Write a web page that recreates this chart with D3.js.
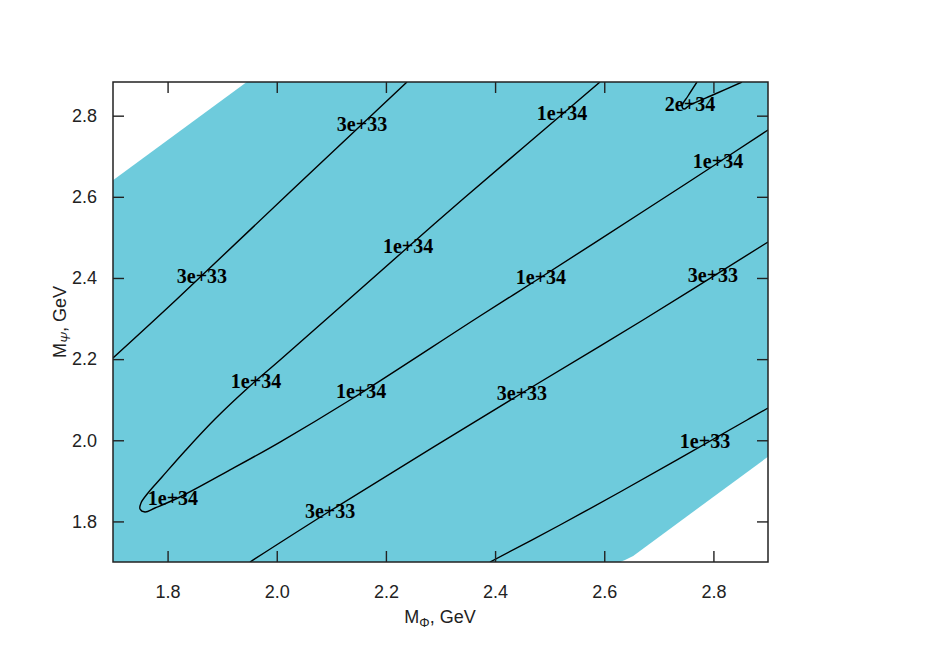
<!DOCTYPE html>
<html><head><meta charset="utf-8">
<script src="https://cdn.jsdelivr.net/npm/d3@7"></script>
<style>body{margin:0;background:#fff}</style>
</head><body>
<svg id="chart" width="949" height="664"></svg>
<script>
// ---- data ----
const xTicks = [1.8, 2.0, 2.2, 2.4, 2.6, 2.8];
const yTicks = [1.8, 2.0, 2.2, 2.4, 2.6, 2.8];
const xDomain = [1.7, 2.9];
const yDomain = [1.7, 2.883];

// allowed (shaded) region boundary
const regionX = [1.7, 1.7, 1.945, 2.9, 2.9, 2.653, 2.638, 2.629];
const regionY = [1.7, 2.641, 2.883, 2.883, 1.9595, 1.715, 1.705, 1.7];

// contour lines
const c3e33aX = [1.7, 1.8154, 2.0243, 2.2386];
const c3e33aY = [2.2028, 2.3457, 2.6119, 2.883];

const c1e34X = [2.5922, 2.3412, 2.2386, 2.0060, 1.9510, 1.8869, 1.8319, 1.7898, 1.7641, 1.7513, 1.7495, 1.7586, 1.7769, 1.8227, 1.9144, 2.0060, 2.1342, 2.3724, 2.4878, 2.6838, 2.7883, 2.9];
const c1e34Y = [2.883, 2.5946, 2.4739, 2.1978, 2.1338, 2.0524, 1.9736, 1.9095, 1.8701, 1.8454, 1.8306, 1.8232, 1.8331, 1.8602, 1.9268, 1.9957, 2.0993, 2.3063, 2.4049, 2.5749, 2.6661, 2.7647];

const c2e34X = [2.7699, 2.7534, 2.7425, 2.7461, 2.7571, 2.8029, 2.8524];
const c2e34Y = [2.883, 2.8485, 2.8238, 2.8164, 2.8263, 2.8534, 2.883];

const c3e33bX = [2.9, 2.671, 2.4493, 2.0976, 1.951];
const c3e33bY = [2.4887, 2.2964, 2.1165, 1.8257, 1.7];

const c1e33X = [2.9, 2.8616, 2.6289, 2.5189, 2.3907];
const c1e33Y = [2.0795, 2.05, 1.8725, 1.7912, 1.7];

// contour labels
const labelText = ["3e+33", "3e+33", "1e+34", "2e+34", "1e+34", "1e+34", "1e+34", "3e+33", "1e+34", "1e+34", "3e+33", "1e+33", "1e+34", "3e+33"];
const labelX = [2.1562, 1.863, 2.5226, 2.7571, 2.8084, 2.2405, 2.4841, 2.7992, 1.962, 2.1544, 2.4493, 2.7846, 1.8099, 2.0976];
const labelY = [2.7795, 2.4049, 2.8066, 2.8288, 2.6883, 2.4788, 2.4024, 2.4073, 2.1461, 2.1214, 2.1165, 1.9982, 1.8577, 1.8257];

// ---- drawing ----
const svg = d3.select("#chart");
const L = 113, R = 768, T = 82, B = 562;
const x = d3.scaleLinear().domain(xDomain).range([L, R]);
const y = d3.scaleLinear().domain(yDomain).range([B, T]);

svg.append("defs").append("clipPath").attr("id", "clip")
  .append("rect").attr("x", L).attr("y", T).attr("width", R - L).attr("height", B - T);

const g = svg.append("g").attr("clip-path", "url(#clip)");

const zip = (xs, ys) => xs.map((v, i) => [v, ys[i]]);
const poly = d3.line().x(d => x(d[0])).y(d => y(d[1]));
g.append("path").attr("d", poly(zip(regionX, regionY)) + "Z")
  .attr("fill", "#6ecbdc").attr("stroke", "none");

const curve = d3.line().x(d => x(d[0])).y(d => y(d[1])).curve(d3.curveCatmullRom.alpha(0.5));
[[c3e33aX, c3e33aY], [c1e34X, c1e34Y], [c2e34X, c2e34Y], [c3e33bX, c3e33bY], [c1e33X, c1e33Y]].forEach(([xs, ys]) => {
  g.append("path").attr("d", curve(zip(xs, ys)))
    .attr("fill", "none").attr("stroke", "#000").attr("stroke-width", 1.4);
});

g.selectAll("text.lab").data(labelText).enter().append("text")
  .attr("class", "lab")
  .attr("x", (d, i) => x(labelX[i]))
  .attr("y", (d, i) => y(labelY[i]))
  .attr("dy", "0.35em")
  .attr("text-anchor", "middle")
  .attr("font-family", "'Liberation Serif', 'DejaVu Serif', serif")
  .attr("font-weight", "bold")
  .attr("font-size", 20)
  .attr("fill", "#000")
  .text(d => d);

// axes
const fmt = d3.format(".1f");
const tickLen = 11;
const axStyle = sel => {
  sel.select(".domain").remove();
  sel.selectAll(".tick line").attr("stroke", "#222").attr("stroke-width", 1.4);
  sel.selectAll(".tick text").attr("font-family", "'Liberation Sans', Arial, sans-serif")
    .attr("font-size", 18).attr("fill", "#222");
};
svg.append("g").attr("transform", `translate(0,${B})`)
  .call(d3.axisBottom(x).tickValues(xTicks).tickFormat(fmt).tickSize(-tickLen).tickPadding(23))
  .call(axStyle);
svg.append("g").attr("transform", `translate(0,${T})`)
  .call(d3.axisTop(x).tickValues(xTicks).tickFormat("").tickSize(-tickLen))
  .call(axStyle);
svg.append("g").attr("transform", `translate(${L},0)`)
  .call(d3.axisLeft(y).tickValues(yTicks).tickFormat(fmt).tickSize(-tickLen).tickPadding(16))
  .call(axStyle);
svg.append("g").attr("transform", `translate(${R},0)`)
  .call(d3.axisRight(y).tickValues(yTicks).tickFormat("").tickSize(-tickLen))
  .call(axStyle);

svg.append("rect").attr("x", L).attr("y", T).attr("width", R - L).attr("height", B - T)
  .attr("fill", "none").attr("stroke", "#222").attr("stroke-width", 1.5);

// axis titles
const xt = svg.append("text").attr("x", 440).attr("y", 623).attr("text-anchor", "middle")
  .attr("font-family", "'Liberation Sans', Arial, sans-serif").attr("font-size", 18).attr("fill", "#222");
xt.append("tspan").text("M");
xt.append("tspan").attr("font-size", 13).attr("dy", 4).text("Φ");
xt.append("tspan").attr("dy", -4).text(", GeV");

const yt = svg.append("text").attr("transform", "translate(66,322) rotate(-90)").attr("text-anchor", "middle")
  .attr("font-family", "'Liberation Sans', Arial, sans-serif").attr("font-size", 18).attr("fill", "#222");
yt.append("tspan").text("M");
yt.append("tspan").attr("font-size", 13).attr("dy", 4).attr("font-style", "italic").text("Ψ");
yt.append("tspan").attr("dy", -4).text(", GeV");
</script>
</body></html>
